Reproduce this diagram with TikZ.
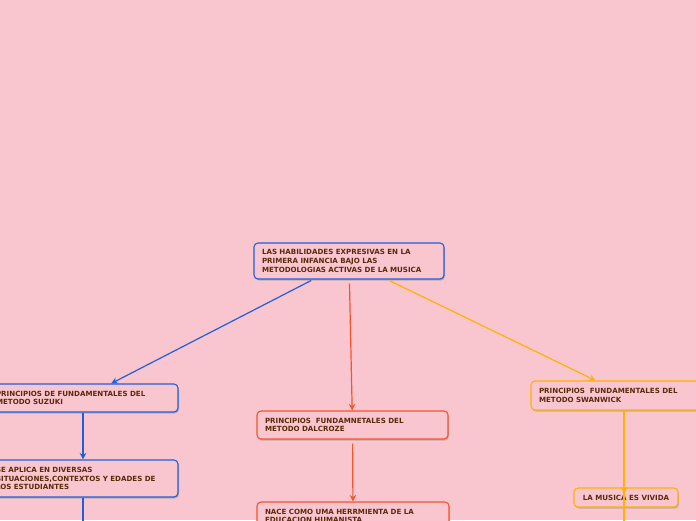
\documentclass[tikz,border=0pt]{standalone}
\usepackage{fontspec}
\setmainfont{DejaVu Sans}
\usetikzlibrary{arrows.meta,shadows}
\definecolor{bgpink}{HTML}{F9C6D0}
\definecolor{txt}{HTML}{5A2A0A}
\definecolor{cblue}{HTML}{1F5FD8}
\definecolor{cred}{HTML}{F2552E}
\definecolor{cyel}{HTML}{FFB200}
\tikzset{
  box/.style={draw, rounded corners=4pt, line width=1.1pt, fill=bgpink, align=left,
    font=\bfseries\fontsize{7.1}{8.6}\selectfont, text=txt, inner xsep=8pt, inner ysep=2pt,
    drop shadow={shadow xshift=1pt, shadow yshift=-1.5pt, fill=black!45, opacity=.5}},
  bluebox/.style={box, draw=cblue},
  redbox/.style={box, draw=cred},
  yelbox/.style={box, draw=cyel},
  conn/.style={line width=1.2pt},
  tip/.style={-{Stealth[length=6.5pt,width=6.5pt]}}
}
\begin{document}
\begin{tikzpicture}[x=1pt,y=-1pt]
\useasboundingbox (0,0) rectangle (696,520);
\clip (0,0) rectangle (696,520);
\fill[bgpink] (0,0) rectangle (696,520);

\node[bluebox, text width=174pt, minimum height=36pt] (root) at (349,261)
  {LAS HABILIDADES EXPRESIVAS EN LA\\PRIMERA INFANCIA BAJO LAS\\METODOLOGIAS ACTIVAS DE LA MUSICA};
\node[bluebox, text width=174pt, minimum height=28pt] (suz) at (83,398)
  {PRINCIPIOS DE FUNDAMENTALES DEL\\METODO SUZUKI};
\node[bluebox, text width=174pt, minimum height=37pt] (suz2) at (83,478.5)
  {SE APLICA EN DIVERSAS\\SITUACIONES,CONTEXTOS Y EDADES DE\\LOS ESTUDIANTES};
\node[redbox, text width=175pt, minimum height=28pt] (dal) at (352.5,425)
  {PRINCIPIOS\ \ FUNDAMNETALES DEL\\METODO DALCROZE};
\node[redbox, text width=176pt, minimum height=28pt] (nace) at (353,516)
  {NACE COMO UMA HERRMIENTA DE LA\\EDUCACION HUMANISTA};
\node[yelbox, text width=175pt, minimum height=29pt] (swan) at (626.5,395.5)
  {PRINCIPIOS\ \ FUNDAMENTALES DEL\\METODO SWANWICK};
\node[yelbox, align=center, minimum width=104pt, minimum height=19pt, inner xsep=4pt] (mus) at (626,497.5)
  {LA MUSICA ES VIVIDA};

\coordinate (suzend) at (83,540);
\coordinate (swanend) at (624,540);

\draw[conn, cblue, tip, shorten <=2pt] (root) -- (suz);
\draw[conn, cred, tip, shorten <=4pt] (root) -- (dal);
\draw[conn, cyel, tip, shorten <=3pt] (root) -- (swan);
\draw[conn, cblue, tip] (suz) -- (suz2);
\draw[conn, cblue] (suz2) -- (suzend);
\draw[conn, cred, tip, shorten <=4pt] (dal) -- (nace);
\draw[conn, cyel, tip] (swan.south -| swanend) -- ([yshift=-6pt]mus.north -| swanend);
\draw[conn, cyel] (mus.north -| swanend) -- (swanend);
\end{tikzpicture}
\end{document}
